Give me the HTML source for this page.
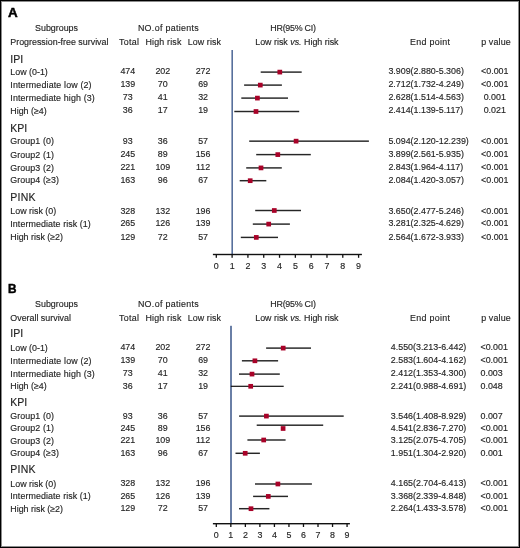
<!DOCTYPE html>
<html><head><meta charset="utf-8"><style>
html,body{margin:0;padding:0;background:#fff;}
#c{position:relative;width:520px;height:548px;overflow:hidden;background:#fff;}
#bd{position:absolute;left:0;top:0;width:520px;height:548px;box-sizing:border-box;border:1px solid #000;box-shadow:inset 0 0 0 1px rgba(0,0,0,0.45);}
.t{position:absolute;white-space:nowrap;line-height:1;font-family:"Liberation Sans",sans-serif;-webkit-text-stroke:0.15px #231f20;}
#tx{position:absolute;left:0;top:0;width:520px;height:548px;filter:grayscale(1);}
#g{position:absolute;left:0;top:0;}
</style></head><body><div id="c">
<div id="tx">
<div class="t" style="left:7.60px;top:7.00px;font-size:12px;font-weight:bold;color:#000;-webkit-text-stroke:0.45px #000;transform:scaleX(1.12);transform-origin:0 0;">A</div>
<div class="t" style="left:-43.50px;width:200px;text-align:center;top:24.25px;font-size:8.9px;font-weight:normal;color:#231f20;">Subgroups</div>
<div class="t" style="left:68.50px;width:200px;text-align:center;top:24.25px;font-size:8.9px;font-weight:normal;color:#231f20;letter-spacing:0.32px;">NO.of patients</div>
<div class="t" style="left:193.00px;width:200px;text-align:center;top:24.25px;font-size:8.9px;font-weight:normal;color:#231f20;letter-spacing:-0.25px;">HR(95% CI)</div>
<div class="t" style="left:10.30px;top:37.55px;font-size:8.9px;font-weight:normal;color:#231f20;">Progression-free survival</div>
<div class="t" style="left:29.20px;width:200px;text-align:center;top:37.55px;font-size:8.9px;font-weight:normal;color:#231f20;letter-spacing:0.3px;">Total</div>
<div class="t" style="left:63.50px;width:200px;text-align:center;top:37.55px;font-size:8.9px;font-weight:normal;color:#231f20;letter-spacing:0.18px;">High risk</div>
<div class="t" style="left:104.40px;width:200px;text-align:center;top:37.55px;font-size:8.9px;font-weight:normal;color:#231f20;letter-spacing:0.1px;">Low risk</div>
<div class="t" style="left:196.90px;width:200px;text-align:center;top:37.55px;font-size:8.9px;font-weight:normal;color:#231f20;">Low risk <i>vs.</i> High risk</div>
<div class="t" style="left:330.20px;width:200px;text-align:center;top:37.55px;font-size:8.9px;font-weight:normal;color:#231f20;letter-spacing:0.3px;">End point</div>
<div class="t" style="left:396.00px;width:200px;text-align:center;top:37.55px;font-size:8.9px;font-weight:normal;color:#231f20;letter-spacing:0.15px;">p value</div>
<div class="t" style="left:10.30px;top:53.65px;font-size:10.5px;font-weight:normal;color:#231f20;">IPI</div>
<div class="t" style="left:10.30px;top:122.95px;font-size:10.5px;font-weight:normal;color:#231f20;">KPI</div>
<div class="t" style="left:10.30px;top:192.05px;font-size:10.5px;font-weight:normal;color:#231f20;letter-spacing:0.25px;">PINK</div>
<div class="t" style="left:10.30px;top:67.70px;font-size:8.9px;font-weight:normal;color:#231f20;">Low (0-1)</div>
<div class="t" style="left:27.80px;width:200px;text-align:center;top:67.20px;font-size:8.9px;font-weight:normal;color:#231f20;">474</div>
<div class="t" style="left:62.80px;width:200px;text-align:center;top:67.20px;font-size:8.9px;font-weight:normal;color:#231f20;">202</div>
<div class="t" style="left:103.10px;width:200px;text-align:center;top:67.20px;font-size:8.9px;font-weight:normal;color:#231f20;">272</div>
<div class="t" style="left:388.40px;top:67.20px;font-size:8.9px;font-weight:normal;color:#231f20;">3.909(2.880-5.306)</div>
<div class="t" style="left:394.80px;width:200px;text-align:center;top:67.20px;font-size:8.9px;font-weight:normal;color:#231f20;">&lt;0.001</div>
<div class="t" style="left:10.30px;top:80.85px;font-size:8.9px;font-weight:normal;color:#231f20;letter-spacing:0.15px;">Intermediate low (2)</div>
<div class="t" style="left:27.80px;width:200px;text-align:center;top:80.35px;font-size:8.9px;font-weight:normal;color:#231f20;">139</div>
<div class="t" style="left:62.80px;width:200px;text-align:center;top:80.35px;font-size:8.9px;font-weight:normal;color:#231f20;">70</div>
<div class="t" style="left:103.10px;width:200px;text-align:center;top:80.35px;font-size:8.9px;font-weight:normal;color:#231f20;">69</div>
<div class="t" style="left:388.40px;top:80.35px;font-size:8.9px;font-weight:normal;color:#231f20;">2.712(1.732-4.249)</div>
<div class="t" style="left:394.80px;width:200px;text-align:center;top:80.35px;font-size:8.9px;font-weight:normal;color:#231f20;">&lt;0.001</div>
<div class="t" style="left:10.30px;top:93.95px;font-size:8.9px;font-weight:normal;color:#231f20;letter-spacing:0.13px;">Intermediate high (3)</div>
<div class="t" style="left:27.80px;width:200px;text-align:center;top:93.45px;font-size:8.9px;font-weight:normal;color:#231f20;">73</div>
<div class="t" style="left:62.80px;width:200px;text-align:center;top:93.45px;font-size:8.9px;font-weight:normal;color:#231f20;">41</div>
<div class="t" style="left:103.10px;width:200px;text-align:center;top:93.45px;font-size:8.9px;font-weight:normal;color:#231f20;">32</div>
<div class="t" style="left:388.40px;top:93.45px;font-size:8.9px;font-weight:normal;color:#231f20;">2.628(1.514-4.563)</div>
<div class="t" style="left:394.80px;width:200px;text-align:center;top:93.45px;font-size:8.9px;font-weight:normal;color:#231f20;">0.001</div>
<div class="t" style="left:10.30px;top:106.95px;font-size:8.9px;font-weight:normal;color:#231f20;">High (&ge;4)</div>
<div class="t" style="left:27.80px;width:200px;text-align:center;top:106.45px;font-size:8.9px;font-weight:normal;color:#231f20;">36</div>
<div class="t" style="left:62.80px;width:200px;text-align:center;top:106.45px;font-size:8.9px;font-weight:normal;color:#231f20;">17</div>
<div class="t" style="left:103.10px;width:200px;text-align:center;top:106.45px;font-size:8.9px;font-weight:normal;color:#231f20;">19</div>
<div class="t" style="left:388.40px;top:106.45px;font-size:8.9px;font-weight:normal;color:#231f20;">2.414(1.139-5.117)</div>
<div class="t" style="left:394.80px;width:200px;text-align:center;top:106.45px;font-size:8.9px;font-weight:normal;color:#231f20;">0.021</div>
<div class="t" style="left:10.30px;top:137.20px;font-size:8.9px;font-weight:normal;color:#231f20;letter-spacing:0.08px;">Group1 (0)</div>
<div class="t" style="left:27.80px;width:200px;text-align:center;top:136.70px;font-size:8.9px;font-weight:normal;color:#231f20;">93</div>
<div class="t" style="left:62.80px;width:200px;text-align:center;top:136.70px;font-size:8.9px;font-weight:normal;color:#231f20;">36</div>
<div class="t" style="left:103.10px;width:200px;text-align:center;top:136.70px;font-size:8.9px;font-weight:normal;color:#231f20;">57</div>
<div class="t" style="left:388.40px;top:136.70px;font-size:8.9px;font-weight:normal;color:#231f20;">5.094(2.120-12.239)</div>
<div class="t" style="left:394.80px;width:200px;text-align:center;top:136.70px;font-size:8.9px;font-weight:normal;color:#231f20;">&lt;0.001</div>
<div class="t" style="left:10.30px;top:150.65px;font-size:8.9px;font-weight:normal;color:#231f20;letter-spacing:0.08px;">Group2 (1)</div>
<div class="t" style="left:27.80px;width:200px;text-align:center;top:150.15px;font-size:8.9px;font-weight:normal;color:#231f20;">245</div>
<div class="t" style="left:62.80px;width:200px;text-align:center;top:150.15px;font-size:8.9px;font-weight:normal;color:#231f20;">89</div>
<div class="t" style="left:103.10px;width:200px;text-align:center;top:150.15px;font-size:8.9px;font-weight:normal;color:#231f20;">156</div>
<div class="t" style="left:388.40px;top:150.15px;font-size:8.9px;font-weight:normal;color:#231f20;">3.899(2.561-5.935)</div>
<div class="t" style="left:394.80px;width:200px;text-align:center;top:150.15px;font-size:8.9px;font-weight:normal;color:#231f20;">&lt;0.001</div>
<div class="t" style="left:10.30px;top:163.55px;font-size:8.9px;font-weight:normal;color:#231f20;letter-spacing:0.08px;">Group3 (2)</div>
<div class="t" style="left:27.80px;width:200px;text-align:center;top:163.05px;font-size:8.9px;font-weight:normal;color:#231f20;">221</div>
<div class="t" style="left:62.80px;width:200px;text-align:center;top:163.05px;font-size:8.9px;font-weight:normal;color:#231f20;">109</div>
<div class="t" style="left:103.10px;width:200px;text-align:center;top:163.05px;font-size:8.9px;font-weight:normal;color:#231f20;">112</div>
<div class="t" style="left:388.40px;top:163.05px;font-size:8.9px;font-weight:normal;color:#231f20;">2.843(1.964-4.117)</div>
<div class="t" style="left:394.80px;width:200px;text-align:center;top:163.05px;font-size:8.9px;font-weight:normal;color:#231f20;">&lt;0.001</div>
<div class="t" style="left:10.30px;top:176.25px;font-size:8.9px;font-weight:normal;color:#231f20;letter-spacing:0.08px;">Group4 (&ge;3)</div>
<div class="t" style="left:27.80px;width:200px;text-align:center;top:175.75px;font-size:8.9px;font-weight:normal;color:#231f20;">163</div>
<div class="t" style="left:62.80px;width:200px;text-align:center;top:175.75px;font-size:8.9px;font-weight:normal;color:#231f20;">96</div>
<div class="t" style="left:103.10px;width:200px;text-align:center;top:175.75px;font-size:8.9px;font-weight:normal;color:#231f20;">67</div>
<div class="t" style="left:388.40px;top:175.75px;font-size:8.9px;font-weight:normal;color:#231f20;">2.084(1.420-3.057)</div>
<div class="t" style="left:394.80px;width:200px;text-align:center;top:175.75px;font-size:8.9px;font-weight:normal;color:#231f20;">&lt;0.001</div>
<div class="t" style="left:10.30px;top:207.00px;font-size:8.9px;font-weight:normal;color:#231f20;">Low risk (0)</div>
<div class="t" style="left:27.80px;width:200px;text-align:center;top:206.50px;font-size:8.9px;font-weight:normal;color:#231f20;">328</div>
<div class="t" style="left:62.80px;width:200px;text-align:center;top:206.50px;font-size:8.9px;font-weight:normal;color:#231f20;">132</div>
<div class="t" style="left:103.10px;width:200px;text-align:center;top:206.50px;font-size:8.9px;font-weight:normal;color:#231f20;">196</div>
<div class="t" style="left:388.40px;top:206.50px;font-size:8.9px;font-weight:normal;color:#231f20;">3.650(2.477-5.246)</div>
<div class="t" style="left:394.80px;width:200px;text-align:center;top:206.50px;font-size:8.9px;font-weight:normal;color:#231f20;">&lt;0.001</div>
<div class="t" style="left:10.30px;top:219.80px;font-size:8.9px;font-weight:normal;color:#231f20;letter-spacing:0.08px;">Intermediate risk (1)</div>
<div class="t" style="left:27.80px;width:200px;text-align:center;top:219.30px;font-size:8.9px;font-weight:normal;color:#231f20;">265</div>
<div class="t" style="left:62.80px;width:200px;text-align:center;top:219.30px;font-size:8.9px;font-weight:normal;color:#231f20;">126</div>
<div class="t" style="left:103.10px;width:200px;text-align:center;top:219.30px;font-size:8.9px;font-weight:normal;color:#231f20;">139</div>
<div class="t" style="left:388.40px;top:219.30px;font-size:8.9px;font-weight:normal;color:#231f20;">3.281(2.325-4.629)</div>
<div class="t" style="left:394.80px;width:200px;text-align:center;top:219.30px;font-size:8.9px;font-weight:normal;color:#231f20;">&lt;0.001</div>
<div class="t" style="left:10.30px;top:233.40px;font-size:8.9px;font-weight:normal;color:#231f20;">High risk (&ge;2)</div>
<div class="t" style="left:27.80px;width:200px;text-align:center;top:232.90px;font-size:8.9px;font-weight:normal;color:#231f20;">129</div>
<div class="t" style="left:62.80px;width:200px;text-align:center;top:232.90px;font-size:8.9px;font-weight:normal;color:#231f20;">72</div>
<div class="t" style="left:103.10px;width:200px;text-align:center;top:232.90px;font-size:8.9px;font-weight:normal;color:#231f20;">57</div>
<div class="t" style="left:388.40px;top:232.90px;font-size:8.9px;font-weight:normal;color:#231f20;">2.564(1.672-3.933)</div>
<div class="t" style="left:394.80px;width:200px;text-align:center;top:232.90px;font-size:8.9px;font-weight:normal;color:#231f20;">&lt;0.001</div>
<div class="t" style="left:116.30px;width:200px;text-align:center;top:261.75px;font-size:8.9px;font-weight:normal;color:#231f20;">0</div>
<div class="t" style="left:132.11px;width:200px;text-align:center;top:261.75px;font-size:8.9px;font-weight:normal;color:#231f20;">1</div>
<div class="t" style="left:147.92px;width:200px;text-align:center;top:261.75px;font-size:8.9px;font-weight:normal;color:#231f20;">2</div>
<div class="t" style="left:163.73px;width:200px;text-align:center;top:261.75px;font-size:8.9px;font-weight:normal;color:#231f20;">3</div>
<div class="t" style="left:179.54px;width:200px;text-align:center;top:261.75px;font-size:8.9px;font-weight:normal;color:#231f20;">4</div>
<div class="t" style="left:195.35px;width:200px;text-align:center;top:261.75px;font-size:8.9px;font-weight:normal;color:#231f20;">5</div>
<div class="t" style="left:211.16px;width:200px;text-align:center;top:261.75px;font-size:8.9px;font-weight:normal;color:#231f20;">6</div>
<div class="t" style="left:226.97px;width:200px;text-align:center;top:261.75px;font-size:8.9px;font-weight:normal;color:#231f20;">7</div>
<div class="t" style="left:242.78px;width:200px;text-align:center;top:261.75px;font-size:8.9px;font-weight:normal;color:#231f20;">8</div>
<div class="t" style="left:258.59px;width:200px;text-align:center;top:261.75px;font-size:8.9px;font-weight:normal;color:#231f20;">9</div>
<div class="t" style="left:8.00px;top:283.00px;font-size:12px;font-weight:bold;color:#000;-webkit-text-stroke:0.45px #000;transform:scaleX(0.98);transform-origin:0 0;">B</div>
<div class="t" style="left:-43.50px;width:200px;text-align:center;top:300.35px;font-size:8.9px;font-weight:normal;color:#231f20;">Subgroups</div>
<div class="t" style="left:68.50px;width:200px;text-align:center;top:300.35px;font-size:8.9px;font-weight:normal;color:#231f20;letter-spacing:0.32px;">NO.of patients</div>
<div class="t" style="left:193.00px;width:200px;text-align:center;top:300.35px;font-size:8.9px;font-weight:normal;color:#231f20;letter-spacing:-0.25px;">HR(95% CI)</div>
<div class="t" style="left:10.30px;top:313.75px;font-size:8.9px;font-weight:normal;color:#231f20;">Overall survival</div>
<div class="t" style="left:29.20px;width:200px;text-align:center;top:313.75px;font-size:8.9px;font-weight:normal;color:#231f20;letter-spacing:0.3px;">Total</div>
<div class="t" style="left:63.50px;width:200px;text-align:center;top:313.75px;font-size:8.9px;font-weight:normal;color:#231f20;letter-spacing:0.18px;">High risk</div>
<div class="t" style="left:104.40px;width:200px;text-align:center;top:313.75px;font-size:8.9px;font-weight:normal;color:#231f20;letter-spacing:0.1px;">Low risk</div>
<div class="t" style="left:196.90px;width:200px;text-align:center;top:313.75px;font-size:8.9px;font-weight:normal;color:#231f20;">Low risk <i>vs.</i> High risk</div>
<div class="t" style="left:330.20px;width:200px;text-align:center;top:313.75px;font-size:8.9px;font-weight:normal;color:#231f20;letter-spacing:0.3px;">End point</div>
<div class="t" style="left:396.00px;width:200px;text-align:center;top:313.75px;font-size:8.9px;font-weight:normal;color:#231f20;letter-spacing:0.15px;">p value</div>
<div class="t" style="left:10.30px;top:328.45px;font-size:10.5px;font-weight:normal;color:#231f20;">IPI</div>
<div class="t" style="left:10.30px;top:396.65px;font-size:10.5px;font-weight:normal;color:#231f20;">KPI</div>
<div class="t" style="left:10.30px;top:463.95px;font-size:10.5px;font-weight:normal;color:#231f20;letter-spacing:0.25px;">PINK</div>
<div class="t" style="left:10.30px;top:343.70px;font-size:8.9px;font-weight:normal;color:#231f20;">Low (0-1)</div>
<div class="t" style="left:27.80px;width:200px;text-align:center;top:343.20px;font-size:8.9px;font-weight:normal;color:#231f20;">474</div>
<div class="t" style="left:62.80px;width:200px;text-align:center;top:343.20px;font-size:8.9px;font-weight:normal;color:#231f20;">202</div>
<div class="t" style="left:103.10px;width:200px;text-align:center;top:343.20px;font-size:8.9px;font-weight:normal;color:#231f20;">272</div>
<div class="t" style="left:390.80px;top:343.20px;font-size:8.9px;font-weight:normal;color:#231f20;">4.550(3.213-6.442)</div>
<div class="t" style="left:480.50px;top:343.20px;font-size:8.9px;font-weight:normal;color:#231f20;">&lt;0.001</div>
<div class="t" style="left:10.30px;top:356.85px;font-size:8.9px;font-weight:normal;color:#231f20;letter-spacing:0.15px;">Intermediate low (2)</div>
<div class="t" style="left:27.80px;width:200px;text-align:center;top:356.35px;font-size:8.9px;font-weight:normal;color:#231f20;">139</div>
<div class="t" style="left:62.80px;width:200px;text-align:center;top:356.35px;font-size:8.9px;font-weight:normal;color:#231f20;">70</div>
<div class="t" style="left:103.10px;width:200px;text-align:center;top:356.35px;font-size:8.9px;font-weight:normal;color:#231f20;">69</div>
<div class="t" style="left:390.80px;top:356.35px;font-size:8.9px;font-weight:normal;color:#231f20;">2.583(1.604-4.162)</div>
<div class="t" style="left:480.50px;top:356.35px;font-size:8.9px;font-weight:normal;color:#231f20;">&lt;0.001</div>
<div class="t" style="left:10.30px;top:369.95px;font-size:8.9px;font-weight:normal;color:#231f20;letter-spacing:0.13px;">Intermediate high (3)</div>
<div class="t" style="left:27.80px;width:200px;text-align:center;top:369.45px;font-size:8.9px;font-weight:normal;color:#231f20;">73</div>
<div class="t" style="left:62.80px;width:200px;text-align:center;top:369.45px;font-size:8.9px;font-weight:normal;color:#231f20;">41</div>
<div class="t" style="left:103.10px;width:200px;text-align:center;top:369.45px;font-size:8.9px;font-weight:normal;color:#231f20;">32</div>
<div class="t" style="left:390.80px;top:369.45px;font-size:8.9px;font-weight:normal;color:#231f20;">2.412(1.353-4.300)</div>
<div class="t" style="left:480.50px;top:369.45px;font-size:8.9px;font-weight:normal;color:#231f20;">0.003</div>
<div class="t" style="left:10.30px;top:382.45px;font-size:8.9px;font-weight:normal;color:#231f20;">High (&ge;4)</div>
<div class="t" style="left:27.80px;width:200px;text-align:center;top:381.95px;font-size:8.9px;font-weight:normal;color:#231f20;">36</div>
<div class="t" style="left:62.80px;width:200px;text-align:center;top:381.95px;font-size:8.9px;font-weight:normal;color:#231f20;">17</div>
<div class="t" style="left:103.10px;width:200px;text-align:center;top:381.95px;font-size:8.9px;font-weight:normal;color:#231f20;">19</div>
<div class="t" style="left:390.80px;top:381.95px;font-size:8.9px;font-weight:normal;color:#231f20;">2.241(0.988-4.691)</div>
<div class="t" style="left:480.50px;top:381.95px;font-size:8.9px;font-weight:normal;color:#231f20;">0.048</div>
<div class="t" style="left:10.30px;top:412.20px;font-size:8.9px;font-weight:normal;color:#231f20;letter-spacing:0.08px;">Group1 (0)</div>
<div class="t" style="left:27.80px;width:200px;text-align:center;top:411.70px;font-size:8.9px;font-weight:normal;color:#231f20;">93</div>
<div class="t" style="left:62.80px;width:200px;text-align:center;top:411.70px;font-size:8.9px;font-weight:normal;color:#231f20;">36</div>
<div class="t" style="left:103.10px;width:200px;text-align:center;top:411.70px;font-size:8.9px;font-weight:normal;color:#231f20;">57</div>
<div class="t" style="left:390.80px;top:411.70px;font-size:8.9px;font-weight:normal;color:#231f20;">3.546(1.408-8.929)</div>
<div class="t" style="left:480.50px;top:411.70px;font-size:8.9px;font-weight:normal;color:#231f20;">0.007</div>
<div class="t" style="left:10.30px;top:424.40px;font-size:8.9px;font-weight:normal;color:#231f20;letter-spacing:0.08px;">Group2 (1)</div>
<div class="t" style="left:27.80px;width:200px;text-align:center;top:423.90px;font-size:8.9px;font-weight:normal;color:#231f20;">245</div>
<div class="t" style="left:62.80px;width:200px;text-align:center;top:423.90px;font-size:8.9px;font-weight:normal;color:#231f20;">89</div>
<div class="t" style="left:103.10px;width:200px;text-align:center;top:423.90px;font-size:8.9px;font-weight:normal;color:#231f20;">156</div>
<div class="t" style="left:390.80px;top:423.90px;font-size:8.9px;font-weight:normal;color:#231f20;">4.541(2.836-7.270)</div>
<div class="t" style="left:480.50px;top:423.90px;font-size:8.9px;font-weight:normal;color:#231f20;">&lt;0.001</div>
<div class="t" style="left:10.30px;top:436.70px;font-size:8.9px;font-weight:normal;color:#231f20;letter-spacing:0.08px;">Group3 (2)</div>
<div class="t" style="left:27.80px;width:200px;text-align:center;top:436.20px;font-size:8.9px;font-weight:normal;color:#231f20;">221</div>
<div class="t" style="left:62.80px;width:200px;text-align:center;top:436.20px;font-size:8.9px;font-weight:normal;color:#231f20;">109</div>
<div class="t" style="left:103.10px;width:200px;text-align:center;top:436.20px;font-size:8.9px;font-weight:normal;color:#231f20;">112</div>
<div class="t" style="left:390.80px;top:436.20px;font-size:8.9px;font-weight:normal;color:#231f20;">3.125(2.075-4.705)</div>
<div class="t" style="left:480.50px;top:436.20px;font-size:8.9px;font-weight:normal;color:#231f20;">&lt;0.001</div>
<div class="t" style="left:10.30px;top:449.35px;font-size:8.9px;font-weight:normal;color:#231f20;letter-spacing:0.08px;">Group4 (&ge;3)</div>
<div class="t" style="left:27.80px;width:200px;text-align:center;top:448.85px;font-size:8.9px;font-weight:normal;color:#231f20;">163</div>
<div class="t" style="left:62.80px;width:200px;text-align:center;top:448.85px;font-size:8.9px;font-weight:normal;color:#231f20;">96</div>
<div class="t" style="left:103.10px;width:200px;text-align:center;top:448.85px;font-size:8.9px;font-weight:normal;color:#231f20;">67</div>
<div class="t" style="left:390.80px;top:448.85px;font-size:8.9px;font-weight:normal;color:#231f20;">1.951(1.304-2.920)</div>
<div class="t" style="left:480.50px;top:448.85px;font-size:8.9px;font-weight:normal;color:#231f20;">0.001</div>
<div class="t" style="left:10.30px;top:479.90px;font-size:8.9px;font-weight:normal;color:#231f20;">Low risk (0)</div>
<div class="t" style="left:27.80px;width:200px;text-align:center;top:479.40px;font-size:8.9px;font-weight:normal;color:#231f20;">328</div>
<div class="t" style="left:62.80px;width:200px;text-align:center;top:479.40px;font-size:8.9px;font-weight:normal;color:#231f20;">132</div>
<div class="t" style="left:103.10px;width:200px;text-align:center;top:479.40px;font-size:8.9px;font-weight:normal;color:#231f20;">196</div>
<div class="t" style="left:390.80px;top:479.40px;font-size:8.9px;font-weight:normal;color:#231f20;">4.165(2.704-6.413)</div>
<div class="t" style="left:480.50px;top:479.40px;font-size:8.9px;font-weight:normal;color:#231f20;">&lt;0.001</div>
<div class="t" style="left:10.30px;top:492.10px;font-size:8.9px;font-weight:normal;color:#231f20;letter-spacing:0.08px;">Intermediate risk (1)</div>
<div class="t" style="left:27.80px;width:200px;text-align:center;top:491.60px;font-size:8.9px;font-weight:normal;color:#231f20;">265</div>
<div class="t" style="left:62.80px;width:200px;text-align:center;top:491.60px;font-size:8.9px;font-weight:normal;color:#231f20;">126</div>
<div class="t" style="left:103.10px;width:200px;text-align:center;top:491.60px;font-size:8.9px;font-weight:normal;color:#231f20;">139</div>
<div class="t" style="left:390.80px;top:491.60px;font-size:8.9px;font-weight:normal;color:#231f20;">3.368(2.339-4.848)</div>
<div class="t" style="left:480.50px;top:491.60px;font-size:8.9px;font-weight:normal;color:#231f20;">&lt;0.001</div>
<div class="t" style="left:10.30px;top:504.80px;font-size:8.9px;font-weight:normal;color:#231f20;">High risk (&ge;2)</div>
<div class="t" style="left:27.80px;width:200px;text-align:center;top:504.30px;font-size:8.9px;font-weight:normal;color:#231f20;">129</div>
<div class="t" style="left:62.80px;width:200px;text-align:center;top:504.30px;font-size:8.9px;font-weight:normal;color:#231f20;">72</div>
<div class="t" style="left:103.10px;width:200px;text-align:center;top:504.30px;font-size:8.9px;font-weight:normal;color:#231f20;">57</div>
<div class="t" style="left:390.80px;top:504.30px;font-size:8.9px;font-weight:normal;color:#231f20;">2.264(1.433-3.578)</div>
<div class="t" style="left:480.50px;top:504.30px;font-size:8.9px;font-weight:normal;color:#231f20;">&lt;0.001</div>
<div class="t" style="left:116.30px;width:200px;text-align:center;top:530.75px;font-size:8.9px;font-weight:normal;color:#231f20;">0</div>
<div class="t" style="left:130.83px;width:200px;text-align:center;top:530.75px;font-size:8.9px;font-weight:normal;color:#231f20;">1</div>
<div class="t" style="left:145.36px;width:200px;text-align:center;top:530.75px;font-size:8.9px;font-weight:normal;color:#231f20;">2</div>
<div class="t" style="left:159.89px;width:200px;text-align:center;top:530.75px;font-size:8.9px;font-weight:normal;color:#231f20;">3</div>
<div class="t" style="left:174.42px;width:200px;text-align:center;top:530.75px;font-size:8.9px;font-weight:normal;color:#231f20;">4</div>
<div class="t" style="left:188.95px;width:200px;text-align:center;top:530.75px;font-size:8.9px;font-weight:normal;color:#231f20;">5</div>
<div class="t" style="left:203.48px;width:200px;text-align:center;top:530.75px;font-size:8.9px;font-weight:normal;color:#231f20;">6</div>
<div class="t" style="left:218.01px;width:200px;text-align:center;top:530.75px;font-size:8.9px;font-weight:normal;color:#231f20;">7</div>
<div class="t" style="left:232.54px;width:200px;text-align:center;top:530.75px;font-size:8.9px;font-weight:normal;color:#231f20;">8</div>
<div class="t" style="left:247.07px;width:200px;text-align:center;top:530.75px;font-size:8.9px;font-weight:normal;color:#231f20;">9</div>
</div>
<svg id="g" width="520" height="548" viewBox="0 0 520 548">
<rect x="231.40" y="50.00" width="1.60" height="204.50" fill="#58709c"/>
<rect x="260.70" y="71.38" width="41.00" height="1.45" fill="#262626"/>
<rect x="277.45" y="69.75" width="4.70" height="4.70" fill="#a80228"/>
<rect x="244.10" y="84.38" width="37.80" height="1.45" fill="#262626"/>
<rect x="257.95" y="82.75" width="4.70" height="4.70" fill="#a80228"/>
<rect x="241.30" y="97.38" width="46.70" height="1.45" fill="#262626"/>
<rect x="255.05" y="95.75" width="4.70" height="4.70" fill="#a80228"/>
<rect x="234.30" y="110.78" width="64.90" height="1.45" fill="#262626"/>
<rect x="253.65" y="109.15" width="4.70" height="4.70" fill="#a80228"/>
<rect x="249.20" y="140.43" width="119.70" height="1.45" fill="#262626"/>
<rect x="293.75" y="138.80" width="4.70" height="4.70" fill="#a80228"/>
<rect x="256.20" y="153.88" width="54.60" height="1.45" fill="#262626"/>
<rect x="275.45" y="152.25" width="4.70" height="4.70" fill="#a80228"/>
<rect x="246.20" y="167.18" width="35.60" height="1.45" fill="#262626"/>
<rect x="258.65" y="165.55" width="4.70" height="4.70" fill="#a80228"/>
<rect x="239.70" y="179.97" width="26.60" height="1.45" fill="#262626"/>
<rect x="247.85" y="178.35" width="4.70" height="4.70" fill="#a80228"/>
<rect x="255.20" y="209.78" width="45.80" height="1.45" fill="#262626"/>
<rect x="271.95" y="208.15" width="4.70" height="4.70" fill="#a80228"/>
<rect x="252.80" y="223.38" width="37.10" height="1.45" fill="#262626"/>
<rect x="266.35" y="221.75" width="4.70" height="4.70" fill="#a80228"/>
<rect x="240.80" y="236.68" width="37.20" height="1.45" fill="#262626"/>
<rect x="253.95" y="235.05" width="4.70" height="4.70" fill="#a80228"/>
<rect x="212.90" y="253.80" width="149.00" height="1.40" fill="#111"/>
<rect x="215.65" y="254.50" width="1.30" height="3.30" fill="#111"/>
<rect x="231.46" y="254.50" width="1.30" height="3.30" fill="#111"/>
<rect x="247.27" y="254.50" width="1.30" height="3.30" fill="#111"/>
<rect x="263.08" y="254.50" width="1.30" height="3.30" fill="#111"/>
<rect x="278.89" y="254.50" width="1.30" height="3.30" fill="#111"/>
<rect x="294.70" y="254.50" width="1.30" height="3.30" fill="#111"/>
<rect x="310.51" y="254.50" width="1.30" height="3.30" fill="#111"/>
<rect x="326.32" y="254.50" width="1.30" height="3.30" fill="#111"/>
<rect x="342.13" y="254.50" width="1.30" height="3.30" fill="#111"/>
<rect x="357.94" y="254.50" width="1.30" height="3.30" fill="#111"/>
<rect x="230.00" y="325.80" width="2.00" height="197.90" fill="#6a7fa6"/>
<rect x="266.10" y="347.38" width="44.90" height="1.45" fill="#262626"/>
<rect x="280.85" y="345.75" width="4.70" height="4.70" fill="#a80228"/>
<rect x="241.90" y="360.07" width="36.20" height="1.45" fill="#262626"/>
<rect x="252.55" y="358.45" width="4.70" height="4.70" fill="#a80228"/>
<rect x="239.00" y="373.38" width="40.80" height="1.45" fill="#262626"/>
<rect x="249.65" y="371.75" width="4.70" height="4.70" fill="#a80228"/>
<rect x="230.80" y="385.70" width="52.90" height="1.20" fill="#111"/>
<rect x="248.35" y="383.95" width="4.70" height="4.70" fill="#a80228"/>
<rect x="239.10" y="415.38" width="104.60" height="1.45" fill="#262626"/>
<rect x="264.05" y="413.75" width="4.70" height="4.70" fill="#a80228"/>
<rect x="256.70" y="424.47" width="66.50" height="1.45" fill="#262626"/>
<rect x="280.75" y="426.15" width="4.70" height="4.70" fill="#a80228"/>
<rect x="247.40" y="439.27" width="38.20" height="1.45" fill="#262626"/>
<rect x="261.35" y="437.65" width="4.70" height="4.70" fill="#a80228"/>
<rect x="235.50" y="452.57" width="24.40" height="1.45" fill="#262626"/>
<rect x="242.85" y="450.95" width="4.70" height="4.70" fill="#a80228"/>
<rect x="255.00" y="483.27" width="56.90" height="1.45" fill="#262626"/>
<rect x="275.55" y="481.65" width="4.70" height="4.70" fill="#a80228"/>
<rect x="253.10" y="495.67" width="34.90" height="1.45" fill="#262626"/>
<rect x="265.95" y="494.05" width="4.70" height="4.70" fill="#a80228"/>
<rect x="239.00" y="507.97" width="30.40" height="1.45" fill="#262626"/>
<rect x="248.65" y="506.35" width="4.70" height="4.70" fill="#a80228"/>
<rect x="212.90" y="523.00" width="137.00" height="1.40" fill="#111"/>
<rect x="215.65" y="523.70" width="1.30" height="3.30" fill="#111"/>
<rect x="230.18" y="523.70" width="1.30" height="3.30" fill="#111"/>
<rect x="244.71" y="523.70" width="1.30" height="3.30" fill="#111"/>
<rect x="259.24" y="523.70" width="1.30" height="3.30" fill="#111"/>
<rect x="273.77" y="523.70" width="1.30" height="3.30" fill="#111"/>
<rect x="288.30" y="523.70" width="1.30" height="3.30" fill="#111"/>
<rect x="302.83" y="523.70" width="1.30" height="3.30" fill="#111"/>
<rect x="317.36" y="523.70" width="1.30" height="3.30" fill="#111"/>
<rect x="331.89" y="523.70" width="1.30" height="3.30" fill="#111"/>
<rect x="346.42" y="523.70" width="1.30" height="3.30" fill="#111"/>
</svg>
<div id="bd"></div>
</div></body></html>
